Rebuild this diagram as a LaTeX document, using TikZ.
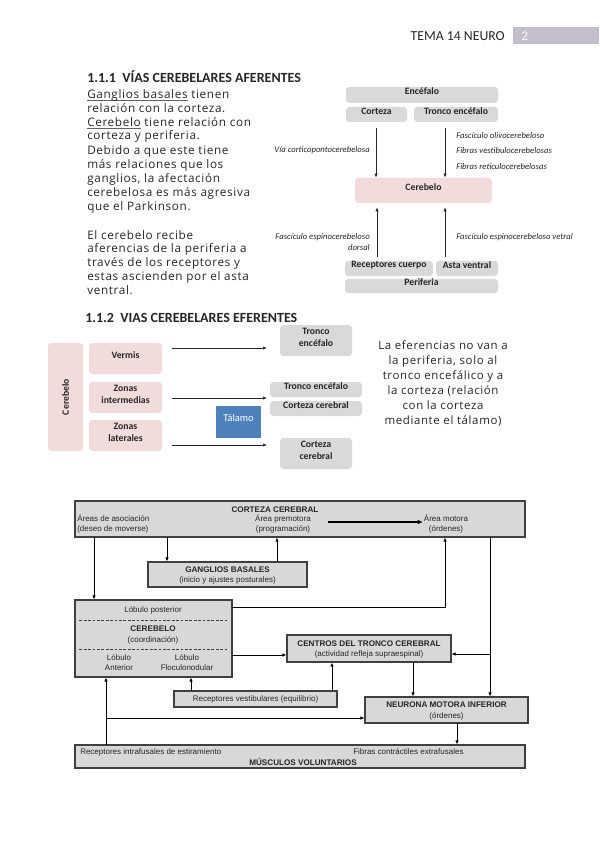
\documentclass[tikz,border=0pt]{standalone}
\usepackage{fontspec}
\setmainfont{Carlito}
\newfontfamily\bodyf[LetterSpace=5.5]{Open Sans}
\newfontfamily\arialf{Liberation Sans}
\usetikzlibrary{arrows.meta,fit,calc}
\definecolor{boxgrey}{RGB}{217,217,217}
\definecolor{pinkc}{RGB}{242,220,219}
\definecolor{bluec}{RGB}{79,129,189}
\definecolor{txtd}{RGB}{38,38,38}
\definecolor{ulc}{RGB}{100,100,100}
\definecolor{hdr}{RGB}{196,189,203}
\definecolor{bord}{RGB}{64,64,64}
\definecolor{bfill}{RGB}{216,216,216}
\newsavebox\myulbox
\newcommand\myul[1]{\sbox\myulbox{#1}\rlap{\color{ulc}\rule[-1.7pt]{\wd\myulbox}{0.5pt}}\usebox\myulbox}
\begin{document}
\begin{tikzpicture}[x=0.75pt,y=-0.75pt,
  gbox/.style={fill=boxgrey,rounded corners=2.5pt,inner sep=0pt,text=txtd,font=\bfseries\fontsize{7.3}{8.6}\selectfont,align=center},
  pbox/.style={gbox,fill=pinkc},
  lab/.style={font=\itshape\fontsize{6.5}{7.6}\selectfont,text=txtd,inner sep=0pt},
  arr/.style={-{Latex[length=3pt,width=2.4pt]},line width=0.5pt,draw=txtd},
  bb/.style={draw=bord,fill=bfill,line width=0.8pt,inner sep=0pt},
  atx/.style={font=\arialf\fontsize{6}{7.6}\selectfont,inner sep=0pt,align=center,text=txtd},
  atb/.style={font=\arialf\bfseries\fontsize{6.1}{7.6}\selectfont,inner sep=0pt,align=center,text=txtd},
  ln/.style={line width=0.75pt,draw=black},
  la/.style={ln,-{Latex[length=3pt,width=2.6pt]}},
  body/.style={font=\bodyf\fontsize{8.8}{10.3}\selectfont,align=left,inner sep=0pt,text=txtd},
  rtext/.style={font=\bodyf\fontsize{8.6}{11.25}\selectfont,align=center,inner sep=0pt,text=txtd},
  head/.style={font=\bfseries\fontsize{10.5}{11}\selectfont,inner sep=0pt,text=txtd}
]
\useasboundingbox[fill=white] (0,0) rectangle (599,848);

% header
\node[fill=hdr,inner sep=0pt,fit={(513,27)(599,44)}] (pg) {};
\node[anchor=west,text=white,inner sep=0pt,font=\fontsize{10}{11}\selectfont] (pgn) at (521,36) {2};
\node[anchor=east,inner sep=0pt,font=\fontsize{10.3}{11}\selectfont,text=txtd] (tema) at (505,36) {TEMA 14 NEURO};

% section 1.1.1
\node[head,anchor=west] (h1) at (87,77) {1.1.1\ \ VÍAS CEREBELARES AFERENTES};
\node[body,anchor=north west] (p1) at (87,89.5) {\myul{Ganglios basales} tienen\\relación con la corteza.\\\myul{Cerebelo} tiene relación con\\corteza y periferia.};
\node[body,anchor=north west,font=\bodyf\fontsize{8.8}{10.6}\selectfont] (p2) at (87,145) {Debido a que este tiene\\más relaciones que los\\ganglios, la afectación\\cerebelosa es más agresiva\\que el Parkinson.};
\node[body,anchor=north west] (p3) at (87,230) {El cerebelo recibe\\aferencias de la periferia a\\través de los receptores y\\estas ascienden por el asta\\ventral.};

% top-right diagram
\node[gbox,fit={(346,87)(498,103)}] (enc) {Encéfalo};
\node[gbox,fit={(346,107)(407,122)}] (cor) {Corteza};
\node[gbox,fit={(414,107)(498,122)}] (tro) {Tronco encéfalo};
\node[pbox,fit={(355,178)(492,203)}] (cer) {Cerebelo};
\node[gbox,fit={(345,261)(433,276)}] (rec) {Receptores cuerpo};
\node[gbox,fit={(436,261)(498,276)}] (ast) {Asta ventral};
\node[gbox,fit={(345,279)(498,293)}] (per) {Periferia};
\coordinate (ta1) at (376,128);
\coordinate (ta2) at (445,128);
\coordinate (tb1) at (377,257);
\coordinate (tb2) at (445,257);
\draw[arr] (ta1) -- (ta1 |- cer.north);
\draw[arr] (ta2) -- (ta2 |- cer.north);
\draw[arr] (tb1) -- ([yshift=-3pt]tb1 |- cer.south);
\draw[arr] (tb2) -- ([yshift=-3pt]tb2 |- cer.south);
\node[lab,anchor=east] (l1) at (370,150) {Vía corticopontocerebelosa};
\node[lab,anchor=west] (l2) at (456,136) {Fascículo olivocerebeloso};
\node[lab,anchor=west] (l3) at (456,151) {Fibras vestibulocerebelosas};
\node[lab,anchor=west] (l4) at (456,167) {Fibras reticulocerebelosas};
\node[lab,anchor=east,align=right] (l5) at (370,242) {Fascículo espinocerebeloso\\dorsal};
\node[lab,anchor=west] (l6) at (456,237) {Fascículo espinocerebeloso vetral};

% section 1.1.2
\node[head,anchor=west] (h2) at (85,318) {1.1.2\ \ VIAS CEREBELARES EFERENTES};
\node[pbox,fit={(48,343)(83,451)}] (cb) {};
\node[font=\bfseries\fontsize{7.3}{8.6}\selectfont,text=txtd,rotate=90,inner sep=0pt] (cbt) at (cb.center) {Cerebelo};
\node[pbox,fit={(89,343)(162,374)}] (ver) {Vermis};
\node[pbox,fit={(89,382)(162,413)}] (zin) {Zonas\\intermedias};
\node[pbox,fit={(89,420)(162,451)}] (zla) {Zonas\\laterales};
\node[gbox,fit={(280,325)(352,356)}] (te1) {Tronco\\encéfalo};
\node[gbox,fit={(270,382)(362,397)}] (te2) {Tronco encéfalo};
\node[gbox,fit={(270,401)(362,416)}] (cc1) {Corteza cerebral};
\node[gbox,fit={(216,406)(261,438)},fill=bluec,rounded corners=0pt,text=white,font=\fontsize{7.8}{9}\selectfont] (tal) {Tálamo};
\node[gbox,fit={(280,438)(352,469)}] (cc2) {Corteza\\cerebral};
\coordinate (e1a) at (172,348); \coordinate (e1b) at (267,348);
\coordinate (e2a) at (172,398); \coordinate (e2b) at (267,398);
\coordinate (e3a) at (172,445); \coordinate (e3b) at (267,445);
\draw[arr] (e1a) -- (e1b);
\draw[arr] (e2a) -- (e2b);
\draw[arr] (e3a) -- (e3b);
\node[rtext,anchor=north] (rt) at (443,340) {La eferencias no van a\\la periferia, solo al\\tronco encefálico y a\\la corteza (relación\\con la corteza\\mediante el tálamo)};

% bottom diagram
\node[bb,fit={(75,501)(525,537)}] (cc) {};
\node[atb] (cct) at (275,510) {CORTEZA CEREBRAL};
\node[atx,anchor=west,align=left] (aa) at (77,524) {Áreas de asociación\\(deseo de moverse)};
\node[atx] (ap) at (283,524) {Área premotora\\(programación)};
\node[atx] (am) at (446,524) {Área motora\\(órdenes)};
\coordinate (pm1) at (328,522); \coordinate (pm2) at (423,522);
\draw[la,line width=1.4pt,-{Latex[length=4pt,width=3.5pt]}] (pm1) -- (pm2);

\node[bb,fit={(148,562)(307,587)}] (gb) {};
\node[atb] (gbt) at (227.5,570) {GANGLIOS BASALES};
\node[atx] (gbs) at (227.5,580) {(inicio y ajustes posturales)};

\node[bb,fit={(75,600)(232,677)}] (cbl) {};
\node[atx] (lp) at (153,610) {Lóbulo posterior};
\node[atb] (cbn) at (153,629) {CEREBELO};
\node[atx] (cbc) at (153,640) {(coordinación)};
\node[atx] (la1) at (119,663) {Lóbulo\\Anterior};
\node[atx] (la2) at (187,663) {Lóbulo\\Floculonodular};
\draw[bord,line width=0.45pt,dash pattern=on 2pt off 1.3pt] ($(cbl.west)+(5,-18.5)$) -- ($(cbl.east)+(-5,-18.5)$);
\draw[bord,line width=0.45pt,dash pattern=on 2pt off 1.3pt] ($(cbl.west)+(5,10.5)$) -- ($(cbl.east)+(-5,10.5)$);

\node[bb,fit={(287,635)(451,662)}] (ctc) {};
\node[atb] (ctct) at (369,644) {CENTROS DEL TRONCO CEREBRAL};
\node[atx] (ctcs) at (369,654) {(actividad refleja supraespinal)};

\node[bb,fit={(174,691)(337,707)}] (ves) {};
\node[atx] (vest) at (255.5,699) {Receptores vestibulares (equilibrio)};

\node[bb,fit={(365,697)(528,723)}] (nmi) {};
\node[atb] (nmit) at (446.5,705) {NEURONA MOTORA INFERIOR};
\node[atx] (nmis) at (446.5,716) {(órdenes)};

\node[bb,fit={(75,745)(525,768)}] (mv) {};
\node[atx,anchor=west] (ri) at (80,752) {Receptores intrafusales de estiramiento};
\node[atx,anchor=west] (fc) at (353,752) {Fibras contráctiles extrafusales};
\node[atb] (mvt) at (303,762) {MÚSCULOS VOLUNTARIOS};

% bottom connectors
\coordinate (k1) at (167,537);
\draw[la] (k1) -- (k1 |- gb.north);
\coordinate (k2) at (277,562);
\draw[la] (k2) -- (k2 |- cc.south);
\coordinate (k3) at (94,537);
\draw[la] (k3) -- (k3 |- cbl.north);
\coordinate (k4) at (232,607);
\coordinate (k4b) at (445,607);
\draw[la] (k4) -- (k4b) -- (k4b |- cc.south);
\coordinate (k5) at (490,537);
\draw[la] (k5) -- (k5 |- nmi.north);
\coordinate (k5b) at (490,654);
\draw[la] (k5b) -- (k5b -| ctc.east);
\coordinate (k6) at (232,655);
\draw[la] (k6) -- (k6 -| ctc.west);
\coordinate (k7) at (413,662);
\draw[la] (k7) -- (k7 |- nmi.north);
\coordinate (k8) at (332,691);
\draw[la] (k8) -- (k8 |- ctc.south);
\coordinate (k9) at (191,691);
\draw[la] (k9) -- (k9 |- cbl.south);
\coordinate (k10) at (106,745);
\draw[la] (k10) -- (k10 |- cbl.south);
\coordinate (k10b) at (106,718);
\draw[la] (k10b) -- (k10b -| nmi.west);
\coordinate (k11) at (457,723);
\draw[la] (k11) -- (k11 |- mv.north);
\end{tikzpicture}
\end{document}
